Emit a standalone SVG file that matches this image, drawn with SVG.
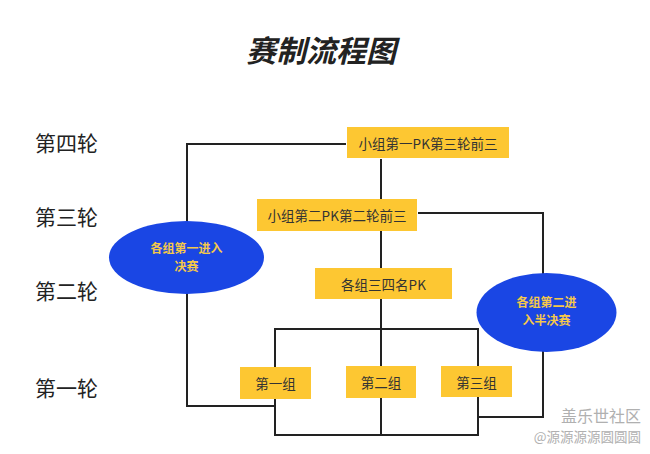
<svg xmlns="http://www.w3.org/2000/svg" width="650" height="454" viewBox="0 0 650 454">
<style>
.bg{fill:#ffffff}
.box{fill:#fdc732}
.bt{font-family:"Noto Sans CJK SC","Noto Sans",sans-serif;font-size:13.5px;fill:#333333;text-anchor:middle;dominant-baseline:central}
.ell{fill:#1a46e4}
.et{font-family:"Noto Sans CJK SC","Noto Sans",sans-serif;font-size:12px;font-weight:bold;fill:#f5c84a;text-anchor:middle;dominant-baseline:central}
.rt{font-family:"Noto Sans CJK SC","Noto Sans",sans-serif;font-size:21px;fill:#222222;dominant-baseline:central}
.ln{fill:none;stroke:#222222;stroke-width:2;stroke-linejoin:miter;stroke-linecap:square}
.wm{font-family:"Noto Sans CJK SC","Noto Sans",sans-serif;fill:#b0b0b0;text-anchor:end;dominant-baseline:central}
</style>
<rect class="bg" x="0" y="0" width="650" height="454"/>
<text x="321" y="49" font-family="Noto Sans CJK SC,Noto Sans,sans-serif" font-size="30" font-weight="bold" font-style="italic" fill="#222222" text-anchor="middle" dominant-baseline="central">赛制流程图</text>
<g id="rounds">
<text class="rt" x="35" y="142">第四轮</text>
<text class="rt" x="35" y="216">第三轮</text>
<text class="rt" x="35" y="290">第二轮</text>
<text class="rt" x="35" y="387">第一轮</text>
</g>
<g id="connectors">
<polyline class="ln" points="345,144 187,144 187,221"/>
<polyline class="ln" points="187,294 187,406 275,406"/>
<line class="ln" x1="381" y1="160" x2="381" y2="198"/>
<polyline class="ln" points="419,213 543,213 543,273"/>
<line class="ln" x1="381" y1="232" x2="381" y2="267"/>
<line class="ln" x1="381" y1="300" x2="381" y2="365"/>
<polyline class="ln" points="275,366 275,329 478,329 478,365"/>
<polyline class="ln" points="275,400 275,435 478,435 478,398"/>
<line class="ln" x1="381" y1="398" x2="381" y2="435"/>
<polyline class="ln" points="543,352 543,417 479,417"/>
</g>
<g id="n-r4">
<rect class="box" x="347" y="127" width="162" height="31"/>
<text class="bt" x="428" y="142.5">小组第一PK第三轮前三</text>
</g>
<g id="n-r3">
<rect class="box" x="257" y="199" width="160" height="32"/>
<text class="bt" x="337" y="215">小组第二PK第二轮前三</text>
</g>
<g id="n-r2">
<rect class="box" x="315" y="268" width="137" height="31"/>
<text class="bt" x="383.5" y="283.5">各组三四名PK</text>
</g>
<g id="n-g1">
<rect class="box" x="240" y="367" width="71" height="32"/>
<text class="bt" x="275.5" y="383">第一组</text>
</g>
<g id="n-g2">
<rect class="box" x="346" y="366" width="70" height="32"/>
<text class="bt" x="381" y="382">第二组</text>
</g>
<g id="n-g3">
<rect class="box" x="441" y="366" width="71" height="31"/>
<text class="bt" x="476.5" y="381.5">第三组</text>
</g>
<g id="n-final">
<ellipse class="ell" cx="186.5" cy="257.5" rx="77.5" ry="36.5"/>
<text class="et" x="186.5" y="247">各组第一进入</text>
<text class="et" x="186.5" y="265.5">决赛</text>
</g>
<g id="n-semi">
<ellipse class="ell" cx="546.5" cy="312.5" rx="70" ry="39.5"/>
<text class="et" x="546.5" y="301">各组第二进</text>
<text class="et" x="546.5" y="319.5">入半决赛</text>
</g>
<g id="watermark">
<text class="wm" x="641" y="415" font-size="16">盖乐世社区</text>
<text class="wm" x="641" y="436" font-size="13.5">@源源源源圆圆圆</text>
</g>
</svg>
